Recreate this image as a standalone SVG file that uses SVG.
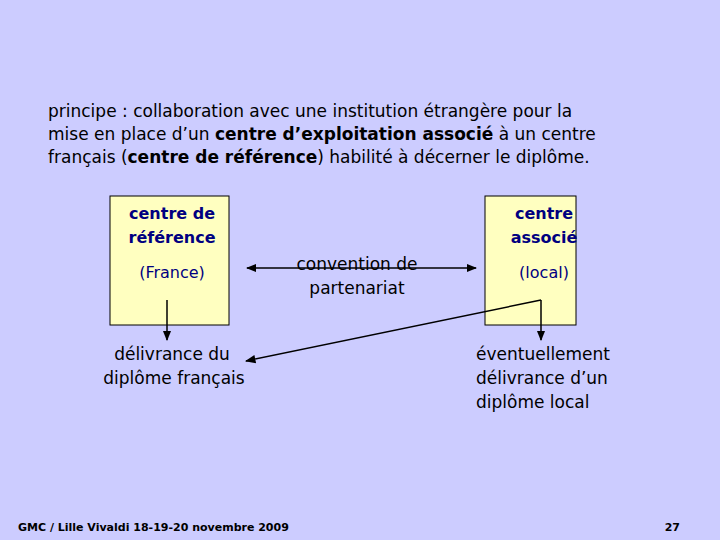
<svg xmlns="http://www.w3.org/2000/svg" width="720" height="540" viewBox="0 0 720 540">
<style>
text{font-family:"DejaVu Sans","Liberation Sans",sans-serif;fill:#000;font-size:17px}
.b{font-weight:bold}
.n{fill:#000080;font-size:16px}
.box{fill:#ffffc0;stroke:#000;stroke-width:1}
.c{stroke:#000;stroke-width:1.5;fill:none}
</style>
<defs><marker id="a" viewBox="0 0 10 10" refX="9" refY="5" markerWidth="7" markerHeight="7" orient="auto-start-reverse"><path d="M0,1L10,5L0,9z" fill="#000"/></marker></defs>
<rect width="720" height="540" fill="#ccccff"/>
<g id="intro">
<text x="48" y="117">principe : collaboration avec une institution étrangère pour la</text>
<text x="48" y="140">mise en place d’un <tspan class="b">centre d’exploitation  associé</tspan> à un centre</text>
<text x="48" y="163">français (<tspan class="b">centre de référence</tspan>) habilité à décerner le diplôme.</text>
</g>
<g id="ref">
<rect class="box" x="110" y="196" width="119" height="129"/>
<text class="n b" x="172" y="219" text-anchor="middle">centre de</text>
<text class="n b" x="172" y="243" text-anchor="middle">référence</text>
<text class="n" x="172" y="278" text-anchor="middle">(France)</text>
</g>
<g id="assoc">
<rect class="box" x="485" y="196" width="91" height="129"/>
<text class="n b" x="544" y="219" text-anchor="middle">centre</text>
<text class="n b" x="544" y="243" text-anchor="middle">associé</text>
<text class="n" x="544" y="278" text-anchor="middle">(local)</text>
</g>
<g id="conv">
<text x="357" y="270" text-anchor="middle">convention de</text>
<text x="357" y="294" text-anchor="middle">partenariat</text>
</g>
<g id="dipfr">
<text x="172" y="360" text-anchor="middle">délivrance du</text>
<text x="174" y="384" text-anchor="middle">diplôme français</text>
</g>
<g id="diploc">
<text x="476" y="360">éventuellement</text>
<text x="476" y="384">délivrance d’un</text>
<text x="476" y="408">diplôme local</text>
</g>
<g id="connectors">
<line class="c" x1="247" y1="268" x2="476" y2="268" marker-start="url(#a)" marker-end="url(#a)"/>
<line class="c" x1="167" y1="300" x2="167" y2="340" marker-end="url(#a)"/>
<line class="c" x1="541" y1="300" x2="541" y2="340" marker-end="url(#a)"/>
<line class="c" x1="541" y1="300" x2="246" y2="361" marker-end="url(#a)"/>
</g>
<g id="footer">
<text class="b" x="18" y="531" style="font-size:11px">GMC / Lille Vivaldi 18-19-20 novembre 2009</text>
<text class="b" x="680" y="531" text-anchor="end" style="font-size:11px">27</text>
</g>
</svg>
